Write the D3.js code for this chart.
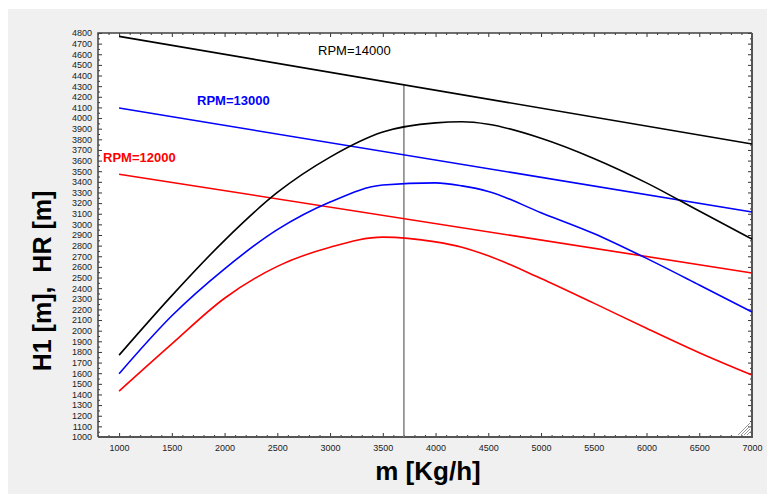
<!DOCTYPE html>
<html>
<head>
<meta charset="utf-8">
<script src="https://cdn.jsdelivr.net/npm/d3@7"></script>
<style>
  body { margin: 0; background: #fff; }
  svg { display: block; font-family: 'Liberation Sans', Arial, sans-serif; }
</style>
</head>
<body>
<svg id="chart" width="767" height="494"></svg>
<script>
// mass flow, kg/h
const massFlow = [1000, 1500, 2000, 2500, 3000, 3500, 4000, 4250, 4500, 5000, 5500, 6000, 6500, 7000]
// H1 curves
const h1Rpm14000 = [1770, 2330, 2850, 3300, 3633, 3869, 3955, 3965, 3942, 3810, 3620, 3390, 3125, 2862]
const h1Rpm13000 = [1595, 2140, 2582, 2950, 3210, 3370, 3390, 3362, 3310, 3110, 2914, 2680, 2430, 2176]
const h1Rpm12000 = [1432, 1876, 2305, 2605, 2785, 2880, 2835, 2785, 2705, 2491, 2259, 2023, 1793, 1583]
// HR lines (straight)
const hrFlow = [1000, 7000]
const hrRpm14000 = [4768, 3756]
const hrRpm13000 = [4094, 3117]
const hrRpm12000 = [3472, 2543]
const rpmLabels = ['RPM=14000', 'RPM=13000', 'RPM=12000']
// cursor
const cursorFlow = 3700
const cursorTop = 4308

let svg = d3.select('#chart')
let pLeft = 98, pRight = 752, pTop = 33, pBottom = 437

let x = d3.scaleLinear().domain([800, 7000]).range([pLeft, pRight])
let y = d3.scaleLinear().domain([1000, 4800]).range([pBottom, pTop])

// panel
svg.append('rect').attr('x', 8).attr('y', 9).attr('width', 759).attr('height', 485).attr('fill', '#f0f0f0')
svg.append('rect').attr('x', pLeft).attr('y', pTop).attr('width', pRight - pLeft).attr('height', pBottom - pTop)
  .attr('fill', '#fff')

let major = d3.range(1000, 4801, 100)
let minor = d3.range(1050, 4800, 100)
let xMajor = d3.range(1000, 7001, 500)
let xMinor = d3.range(800, 7001, 100).filter(v => v % 500 !== 0)

function style(g) {
  g.select('.domain').remove()
  g.selectAll('line').attr('stroke', '#333')
  g.selectAll('text').attr('fill', '#222').attr('font-size', 9)
}

svg.append('g').attr('transform', 'translate(' + pLeft + ',0)')
  .call(d3.axisLeft(y).tickValues(major).tickSize(-4).tickPadding(6).tickFormat(d3.format('d')))
  .call(style)
svg.append('g').attr('transform', 'translate(' + pLeft + ',0)')
  .call(d3.axisLeft(y).tickValues(minor).tickSize(-2).tickFormat(''))
  .call(style)
svg.append('g').attr('transform', 'translate(' + pRight + ',0)')
  .call(d3.axisRight(y).tickValues(major).tickSize(-4).tickFormat(''))
  .call(style)
svg.append('g').attr('transform', 'translate(' + pRight + ',0)')
  .call(d3.axisRight(y).tickValues(minor).tickSize(-2).tickFormat(''))
  .call(style)

svg.append('g').attr('transform', 'translate(0,' + pBottom + ')')
  .call(d3.axisBottom(x).tickValues(xMajor).tickSize(-4).tickPadding(8).tickFormat(d3.format('d')))
  .call(style)
svg.append('g').attr('transform', 'translate(0,' + pBottom + ')')
  .call(d3.axisBottom(x).tickValues(xMinor).tickSize(-2).tickFormat(''))
  .call(style)
svg.append('g').attr('transform', 'translate(0,' + pTop + ')')
  .call(d3.axisTop(x).tickValues(xMajor).tickSize(-4).tickFormat(''))
  .call(style)
svg.append('g').attr('transform', 'translate(0,' + pTop + ')')
  .call(d3.axisTop(x).tickValues(xMinor).tickSize(-2).tickFormat(''))
  .call(style)

// frame
svg.append('path')
  .attr('d', 'M' + pLeft + ',' + pBottom + 'V' + pTop + 'H' + pRight)
  .attr('fill', 'none').attr('stroke', '#404040').attr('stroke-width', 1.5)
svg.append('path')
  .attr('d', 'M' + pLeft + ',' + pBottom + 'H' + pRight + 'V' + pTop)
  .attr('fill', 'none').attr('stroke', '#555').attr('stroke-width', 2)

// resize grip
let grip = svg.append('g').attr('stroke', '#999').attr('stroke-width', 1)
;[3, 6, 9, 12].forEach(k => {
  grip.append('line').attr('x1', pRight - 2 - k).attr('y1', pBottom - 2).attr('x2', pRight - 2).attr('y2', pBottom - 2 - k)
})

let line = d3.line().x(d => x(d[0])).y(d => y(d[1])).curve(d3.curveMonotoneX)

// cursor line
svg.append('line')
  .attr('x1', x(cursorFlow)).attr('x2', x(cursorFlow))
  .attr('y1', y(cursorTop)).attr('y2', pBottom)
  .attr('stroke', '#808080').attr('stroke-width', 1.5)

let series = [
  { xs: hrFlow, ys: hrRpm14000, color: '#000' },
  { xs: hrFlow, ys: hrRpm13000, color: '#0000ff' },
  { xs: hrFlow, ys: hrRpm12000, color: '#ff0000' },
  { xs: massFlow, ys: h1Rpm14000, color: '#000' },
  { xs: massFlow, ys: h1Rpm13000, color: '#0000ff' },
  { xs: massFlow, ys: h1Rpm12000, color: '#ff0000' }
]

svg.append('g').selectAll('path')
  .data(series)
  .enter()
  .append('path')
  .attr('d', s => line(s.xs.map((v, i) => [v, s.ys[i]])))
  .attr('fill', 'none')
  .attr('stroke', s => s.color)
  .attr('stroke-width', 1.6)

// rpm labels
svg.append('text').text(rpmLabels[0]).attr('x', 318).attr('y', 55)
  .attr('font-size', 13).attr('fill', '#000')
svg.append('text').text(rpmLabels[1]).attr('x', 197).attr('y', 105)
  .attr('font-size', 13).attr('font-weight', 'bold').attr('fill', '#0000ff')
svg.append('text').text(rpmLabels[2]).attr('x', 103).attr('y', 162)
  .attr('font-size', 13).attr('font-weight', 'bold').attr('fill', '#ff0000')

// axis titles
svg.append('text').text('m [Kg/h]')
  .attr('x', 428).attr('y', 480).attr('text-anchor', 'middle')
  .attr('font-size', 26).attr('font-weight', 'bold').attr('fill', '#000')
svg.append('text').text('H1 [m],  HR [m]')
  .attr('transform', 'translate(51,281) rotate(-90)')
  .attr('text-anchor', 'middle')
  .style('white-space', 'pre')
  .attr('font-size', 25).attr('font-weight', 'bold').attr('fill', '#000')
</script>
</body>
</html>
